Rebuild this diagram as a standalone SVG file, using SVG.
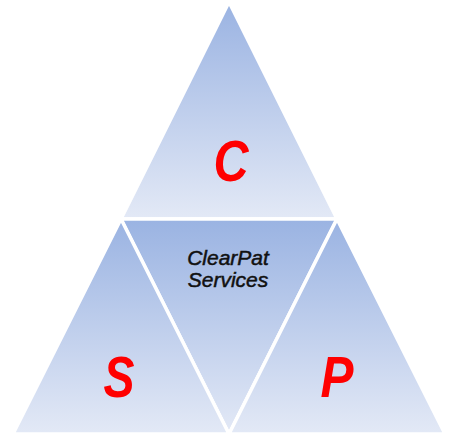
<svg xmlns="http://www.w3.org/2000/svg" width="458" height="435" viewBox="0 0 458 435">
<defs>
<linearGradient id="g" x1="0" y1="0" x2="0" y2="1">
<stop offset="0" stop-color="#9ab3e2"/>
<stop offset="1" stop-color="#e3e9f6"/>
</linearGradient>
</defs>
<style>
.tri{fill:url(#g);stroke:#ffffff;stroke-width:3.5;stroke-linejoin:miter}
.big{font-family:"Liberation Sans",Arial,sans-serif;font-weight:bold;font-style:italic;font-size:58px;fill:#ff0000;text-anchor:middle}
.lbl{font-family:"Liberation Sans",Arial,sans-serif;font-style:italic;font-size:21px;fill:#111111;stroke:#111111;stroke-width:0.5;text-anchor:middle}
</style>
<g id="top">
<polygon class="tri" points="229,2 337,219 121,219"/>
<text class="big" x="231" y="181" textLength="35" lengthAdjust="spacingAndGlyphs">C</text>
</g>
<g id="center">
<polygon class="tri" points="121,219 337,219 229,434"/>
<text class="lbl" x="228" y="265">ClearPat</text>
<text class="lbl" x="228" y="287">Services</text>
</g>
<g id="left">
<polygon class="tri" points="121,219 229,434 13,434"/>
<text class="big" x="119" y="397" textLength="31" lengthAdjust="spacingAndGlyphs">S</text>
</g>
<g id="right">
<polygon class="tri" points="337,219 445,434 229,434"/>
<text class="big" x="337" y="397" textLength="33" lengthAdjust="spacingAndGlyphs">P</text>
</g>
<g id="connectors"></g>
</svg>
